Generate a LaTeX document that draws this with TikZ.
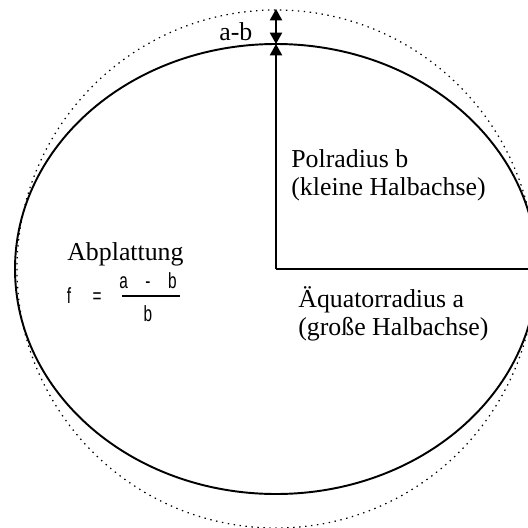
\documentclass[tikz,border=0pt]{standalone}
\usepackage{fontspec}
\setmainfont{Liberation Serif}
\newfontfamily\narrowsans[FakeStretch=0.7]{Liberation Sans}
\usepackage{tikz}
\usetikzlibrary{arrows.meta}

\begin{document}
\begin{tikzpicture}[x=0.02cm, y=-0.02cm,
        lbl/.style={inner sep=0pt, anchor=base west, font=\fontsize{14.7}{17}\selectfont},
        frm/.style={inner sep=0pt, anchor=base, font=\narrowsans\fontsize{12.5}{14}\selectfont},
        tip/.style={-{Triangle[width=7pt,length=6.5pt]}}]
            \useasboundingbox (0,0) rectangle (528,528);
            \coordinate (C) at (276,269);
            \coordinate (P) at (276,44);
            \coordinate (T) at (276,9);
            \coordinate (Q) at (528,269);
            \begin{scope}
                \clip (0,0) rectangle (528,528);
                \draw[line width=0.7pt, dash pattern=on 0.8pt off 2.6pt] (C) circle [radius=259];
                \draw[line width=1.1pt] (C) ellipse [x radius=261, y radius=225];
            \end{scope}
            \draw[line width=0.8pt] (Q) -- (C);
            \draw[line width=0.8pt, tip] (C) -- (P);
            \draw[line width=0.8pt, {Triangle[width=7pt,length=6.5pt]}-{Triangle[width=7pt,length=6.5pt]}] (T) -- (P);
            % labels
            \node[lbl] (ab) at (219,40) {a-b};
            \node[lbl] (pol) at (291,167) {Polradius b};
            \node[lbl] (polk) at (291,195) {(kleine Halbachse)};
            \node[lbl] (aeq) at (298,307) {Äquatorradius a};
            \node[lbl] (aeqg) at (298,335) {(große Halbachse)};
            \node[lbl] (abpl) at (67,260) {Abplattung};
            % formula
            \node[frm] (f) at (69,303) {f};
            \node[frm] (eq) at (97,303) {=};
            \node[frm] (num) at (148,288) {a\hspace{0.8em}-\hspace{0.8em}b};
            \node[frm] (den) at (148,321) {b};
            \coordinate (bl) at (122,296);
            \coordinate (br) at (180,296);
            \draw[line width=0.6pt] (bl) -- (br);
        \end{tikzpicture}
\end{document}
